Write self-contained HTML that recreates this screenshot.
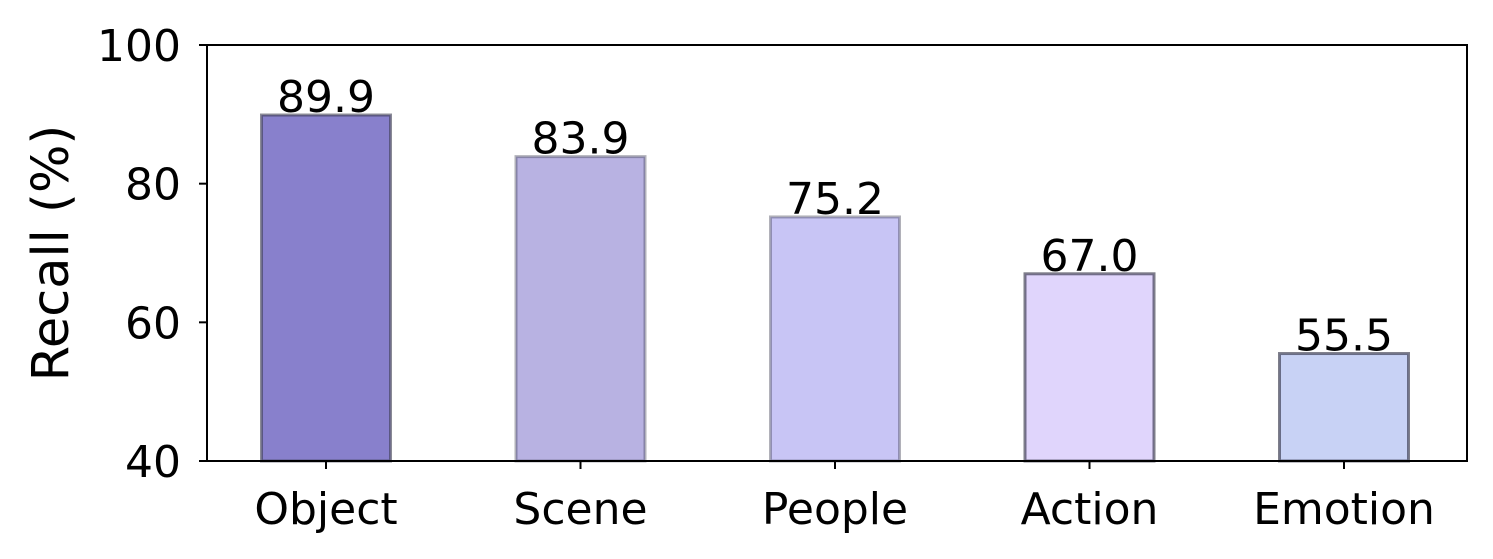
<!DOCTYPE html>
<html><head><meta charset="utf-8"><style>
body{margin:0;background:#fff;}
svg{display:block;font-family:"DejaVu Sans","Liberation Sans",sans-serif;}
</style></head><body>
<svg id="chart" width="1493" height="559">
<g id="marks"></g>
<rect x="207" y="45" width="1260" height="416" fill="none" stroke="#000" stroke-width="2"/>
<text transform="translate(68,253) rotate(-90)" text-anchor="middle" font-size="51">Recall (%)</text>
</svg>
<script>
const categories=["Object","Scene","People","Action","Emotion"];
const values=[89.9,83.9,75.2,67.0,55.5];
const valueLabels=["89.9","83.9","75.2","67.0","55.5"];
const yTicks=[40,60,80,100];
const colors=["#8880cc","#b8b2e2","#c8c5f5","#e0d5fc","#c8d2f5"];
const edges=["rgba(60,60,80,0.6)","rgba(60,60,80,0.4)","rgba(60,60,80,0.4)","rgba(40,40,60,0.6)","rgba(40,40,60,0.6)"];
const NS="http://www.w3.org/2000/svg";
const g=document.getElementById('marks');
function y(v){return 461-(v-40)*(416/60);}
function x(i){return 326+254.5*i;}
function mk(t,a,txt){const e=document.createElementNS(NS,t);for(const k in a)e.setAttribute(k,a[k]);if(txt!==undefined)e.textContent=txt;g.appendChild(e);return e;}
const bw=129;
categories.forEach((c,i)=>{
 const b=mk('rect',{x:x(i)-bw/2,y:y(values[i]),width:bw,height:461-y(values[i]),fill:colors[i],stroke:edges[i],'stroke-width':3});
 
 
 const t=mk('text',{x:x(i),y:y(values[i])-3,'text-anchor':'middle','font-size':44},valueLabels[i]);
 
 
 const tk=mk('line',{x1:x(i),x2:x(i),y1:461,y2:469,stroke:'#000','stroke-width':2});
 
 
 const l=mk('text',{x:x(i),y:524,'text-anchor':'middle','font-size':44},c);
 
 
});
yTicks.forEach(v=>{
 const tk=mk('line',{x1:199,x2:207,y1:y(v),y2:y(v),stroke:'#000','stroke-width':2});
 
 
 const l=mk('text',{x:181,y:y(v)+16,'text-anchor':'end','font-size':44},String(v));
 
 
});
</script>
</body></html>
